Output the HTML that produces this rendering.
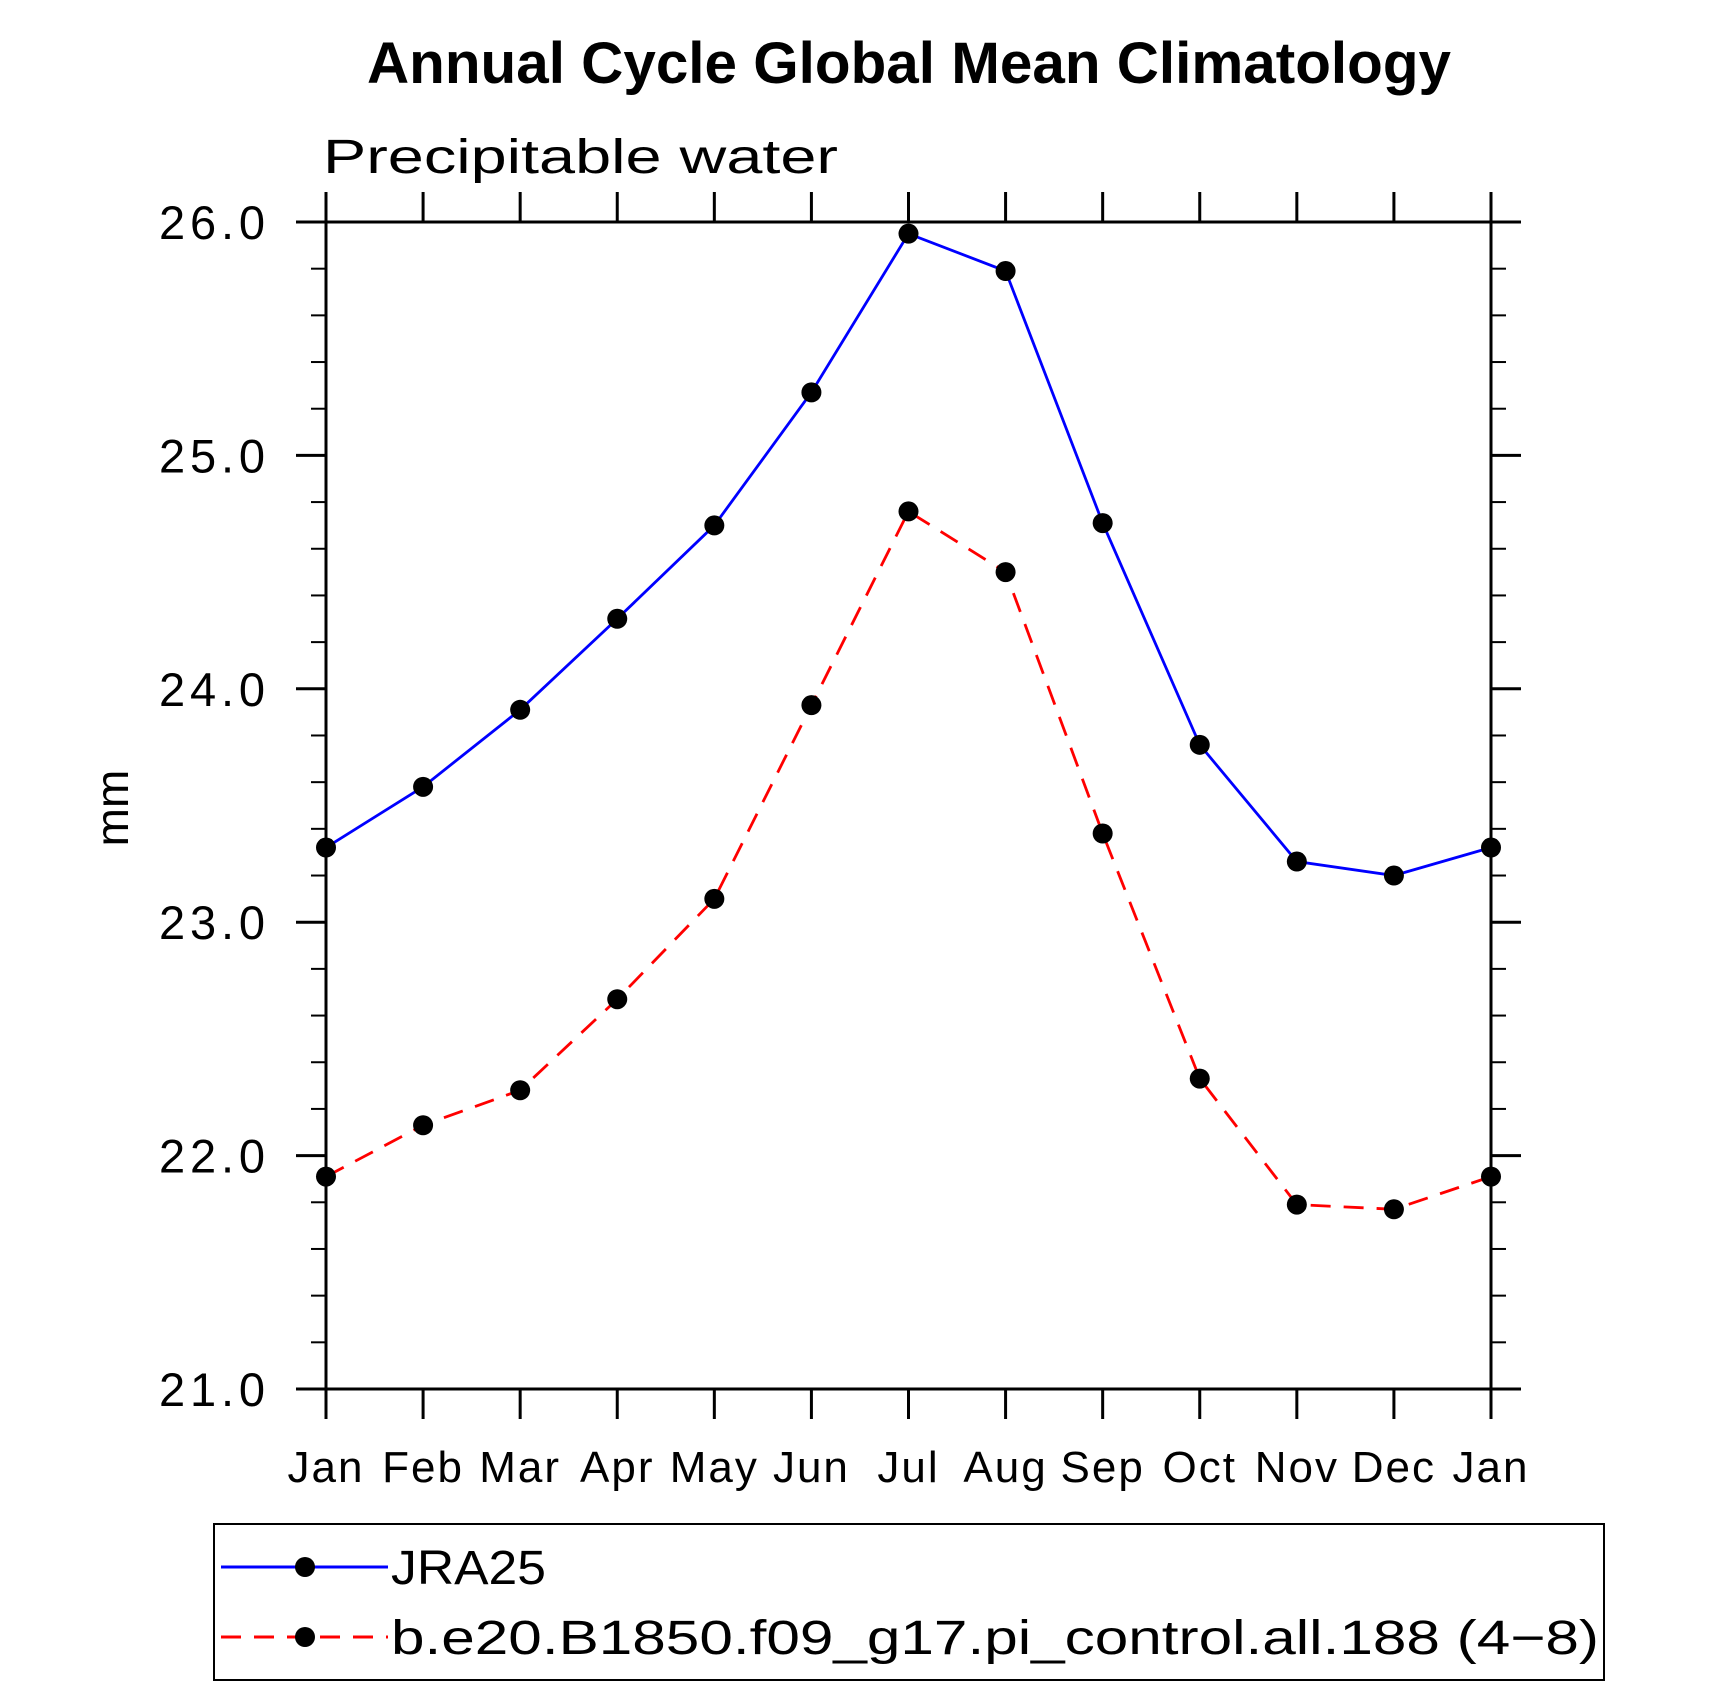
<!DOCTYPE html>
<html><head><meta charset="utf-8"><style>html,body{margin:0;padding:0;background:#fff}svg{display:block}</style></head>
<body>
<svg id="chart" width="1710" height="1686" viewBox="0 0 1710 1686" xmlns="http://www.w3.org/2000/svg" font-family="'Liberation Sans', sans-serif">
<text x="909" y="83" font-size="58" font-weight="bold" text-anchor="middle" textLength="1084" lengthAdjust="spacingAndGlyphs">Annual Cycle Global Mean Climatology</text>
<text x="323" y="173" font-size="48" font-weight="300" textLength="515" lengthAdjust="spacingAndGlyphs">Precipitable water</text>
<text transform="translate(128,808) rotate(-90)" font-size="46" text-anchor="middle">mm</text>
<g id="axes"></g>
<g id="series"></g>
<g>
<rect x="214" y="1524" width="1390" height="156" fill="none" stroke="#000" stroke-width="2"/>
<g>
<line x1="221" y1="1567" x2="388" y2="1567" stroke="#00f" stroke-width="3"/>
<circle cx="305" cy="1567" r="10"/>
<text x="391" y="1584" font-size="48" textLength="155" lengthAdjust="spacingAndGlyphs">JRA25</text>
</g>
<g>
<line x1="221" y1="1637" x2="388" y2="1637" stroke="#f00" stroke-width="3" stroke-dasharray="20,13"/>
<circle cx="305" cy="1637" r="10"/>
<text x="391" y="1654" font-size="48" textLength="1208" lengthAdjust="spacingAndGlyphs">b.e20.B1850.f09_g17.pi_control.all.188 (4−8)</text>
</g>
</g>
</svg>
<script>
const months = ["Jan","Feb","Mar","Apr","May","Jun","Jul","Aug","Sep","Oct","Nov","Dec","Jan"];
const jra25 = [23.32,23.58,23.91,24.30,24.70,25.27,25.95,25.79,24.71,23.76,23.26,23.20,23.32];
const model = [21.91,22.13,22.28,22.67,23.10,23.93,24.76,24.50,23.38,22.33,21.79,21.77,21.91];
const yTicks = ["21.0","22.0","23.0","24.0","25.0","26.0"];
const yMin = 21, yMax = 26;
const L=326,R=1491,T=222,B=1389;
const NS="http://www.w3.org/2000/svg";
const xs = i => L + i*(R-L)/(months.length-1);
const ys = v => B - (v-yMin)*(B-T)/(yMax-yMin);
function mk(tag, attrs, parent){const e=document.createElementNS(NS,tag);for(const k in attrs)e.setAttribute(k,attrs[k]);parent.appendChild(e);return e;}
const ax=document.getElementById('axes'), sr=document.getElementById('series');
const frame=mk('rect',{x:L,y:T,width:R-L,height:B-T,fill:'none',stroke:'#000','stroke-width':3},ax);


months.forEach((m,i)=>{
  const x=xs(i);
  const t1=mk('line',{x1:x,y1:B,x2:x,y2:B+30,stroke:'#000','stroke-width':3},ax);
  
  
  const t2=mk('line',{x1:x,y1:T,x2:x,y2:T-30,stroke:'#000','stroke-width':3},ax);
  
  
  const tx=mk('text',{x:x,y:1482,'font-size':44,'font-weight':300,'text-anchor':'middle','letter-spacing':2},ax);
  tx.textContent=m;
  
  
});
for(let v=yMin; v<=yMax+1e-9; v+=0.2){
  const y=ys(v); const major=Math.abs(v-Math.round(v))<1e-6; const len=major?30:15;
  const a=mk('line',{x1:L,y1:y,x2:L-len,y2:y,stroke:'#000','stroke-width':major?3:2},ax);
  
  
  const b=mk('line',{x1:R,y1:y,x2:R+len,y2:y,stroke:'#000','stroke-width':major?3:2},ax);
  
  
}
yTicks.forEach(t=>{
  const tx=mk('text',{x:159,y:ys(parseFloat(t))+17,'font-size':47,'font-weight':300,textLength:106,lengthAdjust:'spacing'},ax);
  tx.textContent=t;
  
  
});
function drawSeries(vals,color,dash,name){
  const pts=vals.map((v,i)=>xs(i)+','+ys(v)).join(' ');
  const pl=mk('polyline',{points:pts,fill:'none',stroke:color,'stroke-width':2.8},sr);
  if(dash) pl.setAttribute('stroke-dasharray',dash);
  
  
  vals.forEach((v,i)=>{
    const c=mk('circle',{cx:xs(i),cy:ys(v),r:10,fill:'#000'},sr);
    
    
  });
}
drawSeries(jra25,'#00f',null,'jra25');
drawSeries(model,'#f00','20,13','model');
</script>
</body></html>
